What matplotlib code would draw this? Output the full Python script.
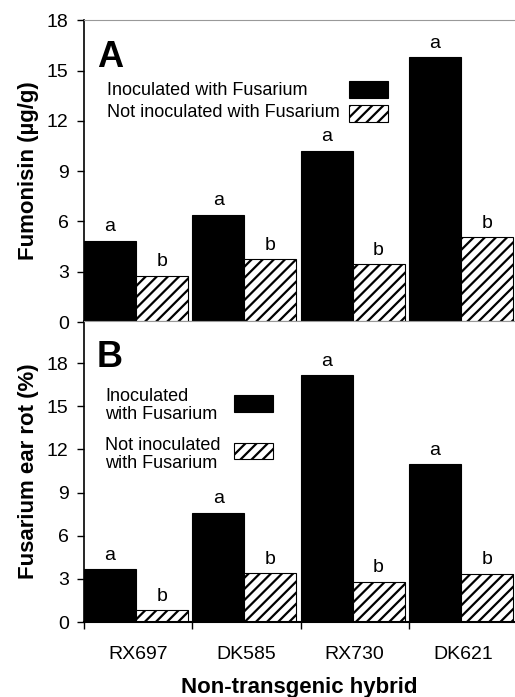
import matplotlib
matplotlib.use("Agg")
import matplotlib.pyplot as plt
import numpy as np
from matplotlib.patches import Rectangle

plt.rcParams['font.family'] = ['Liberation Sans', 'DejaVu Sans']
plt.rcParams['hatch.linewidth'] = 1.6

# data
hybrids = ["RX697", "DK585", "RX730", "DK621"]
fum_inoc = [4.85, 6.4, 10.2, 15.8]
fum_not = [2.75, 3.75, 3.45, 5.05]
rot_inoc = [3.65, 7.6, 17.15, 10.95]
rot_not = [0.8, 3.4, 2.8, 3.35]
letters_inoc = ["a", "a", "a", "a"]
letters_not = ["b", "b", "b", "b"]

x = np.arange(len(hybrids))
w = 0.48

fig = plt.figure(figsize=(5.15, 6.97), dpi=100)
axA = fig.add_axes([0.163, 0.538, 0.837, 0.433])
axB = fig.add_axes([0.163, 0.1076, 0.837, 0.4314])


def draw_panel(ax, inoc, notinoc, ymax):
    b1 = ax.bar(x, inoc, w, align="edge", color="black", edgecolor="black", lw=0.8)
    b2 = ax.bar(x + w, notinoc, w, align="edge", color="white", edgecolor="black",
                lw=0.8, hatch="///")
    for bars, labs in ((b1, letters_inoc), (b2, letters_not)):
        for r, t in zip(bars, labs):
            ax.annotate(t, (r.get_x() + r.get_width() / 2, r.get_height()),
                        xytext=(0, 4), textcoords="offset points",
                        ha="center", va="bottom", fontsize=14)
    ax.set_xlim(0, 3.98)
    ax.set_ylim(0, ymax)
    ax.set_yticks(np.arange(0, 19, 3))
    ax.tick_params(axis="y", labelsize=14, length=5, width=1, pad=6)
    ax.spines["right"].set_visible(False)
    ax.spines["left"].set_linewidth(1.2)
    ax.spines["bottom"].set_linewidth(1.5)
    ax.spines["top"].set_color("#999999")
    ax.spines["top"].set_linewidth(0.8)


draw_panel(axA, fum_inoc, fum_not, 18)
draw_panel(axB, rot_inoc, rot_not, 20.9)

axA.set_xticks([])
axA.set_ylabel("Fumonisin (\u00b5g/g)", fontsize=16, fontweight="bold", labelpad=6)
axA.text(0.03, 0.844, "A", transform=axA.transAxes, fontsize=26, fontweight="bold")

axB.set_ylabel("Fusarium ear rot (%)", fontsize=16, fontweight="bold", labelpad=6)
axB.text(0.03, 0.847, "B", transform=axB.transAxes, fontsize=26, fontweight="bold")
axB.set_xticks(x)
axB.set_xticklabels([])
axB.set_xticks(x + 0.5, minor=True)
axB.set_xticklabels(hybrids, minor=True, fontsize=14)
axB.tick_params(axis="x", which="major", length=5, width=1)
axB.tick_params(axis="x", which="minor", length=0, pad=17)
axB.set_xlabel("Non-transgenic hybrid", fontsize=16, fontweight="bold", labelpad=10)

# legend A
axA.text(0.053, 0.768, "Inoculated with Fusarium", transform=axA.transAxes,
         fontsize=13, va="center")
axA.text(0.053, 0.695, "Not inoculated with Fusarium", transform=axA.transAxes,
         fontsize=13, va="center")
axA.add_patch(Rectangle((0.615, 0.742), 0.09, 0.056, transform=axA.transAxes,
                        facecolor="black", edgecolor="black", lw=0.8))
axA.add_patch(Rectangle((0.615, 0.662), 0.09, 0.056, transform=axA.transAxes,
                        facecolor="white", edgecolor="black", lw=0.8, hatch="///"))

# legend B
axB.text(0.049, 0.719, "Inoculated\nwith Fusarium", transform=axB.transAxes,
         fontsize=13, va="center", linespacing=1.05)
axB.text(0.049, 0.558, "Not inoculated\nwith Fusarium", transform=axB.transAxes,
         fontsize=13, va="center", linespacing=1.05)
axB.add_patch(Rectangle((0.348, 0.698), 0.091, 0.056, transform=axB.transAxes,
                        facecolor="black", edgecolor="black", lw=0.8))
axB.add_patch(Rectangle((0.348, 0.5415), 0.091, 0.054, transform=axB.transAxes,
                        facecolor="white", edgecolor="black", lw=0.8, hatch="///"))

fig.savefig("out.png", dpi=100)
